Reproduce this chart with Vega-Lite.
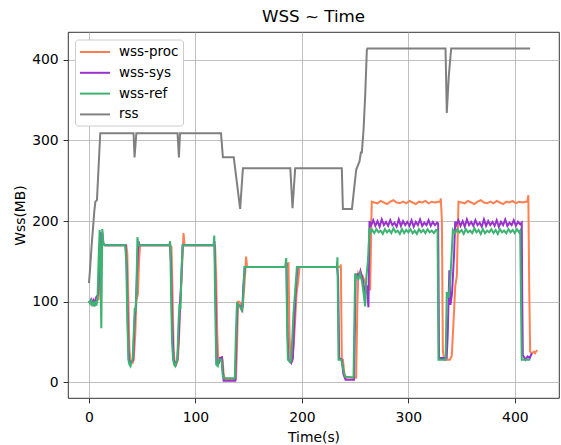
{
"$schema": "https://vega.github.io/schema/vega-lite/v6.json",
"width": 491, "height": 366,
"autosize": {"type": "none"},
"padding": {"left": 68, "top": 32, "right": 2, "bottom": 47},
"title": {"text": "WSS ~ Time", "fontSize": 16.7, "font": "DejaVu Sans", "fontWeight": "normal", "offset": 6, "color": "black"},
"config": {
  "font": "DejaVu Sans",
  "view": {"stroke": "black", "strokeWidth": 0.8},
  "axis": {"domain": false, "grid": true, "gridColor": "#b0b0b0", "gridWidth": 0.8, "tickColor": "black", "tickSize": 4.9, "tickWidth": 0.8, "labelFontSize": 13.9, "labelColor": "black", "labelPadding": 4.9, "titleFontSize": 13.9, "titleFontWeight": "normal", "titleColor": "black", "labelFont": "DejaVu Sans", "titleFont": "DejaVu Sans"},
  "axisX": {"labelPadding": 7.5, "titlePadding": 6},
  "legend": {"symbolType": "M-1,0H3", "symbolSize": 225, "symbolStrokeWidth": 2, "labelFontSize": 13.5, "labelFont": "DejaVu Sans", "labelOffset": 23, "padding": 4, "rowPadding": 5.8, "strokeColor": "#cccccc", "fillColor": "white", "cornerRadius": 3, "labelColor": "black"}
},
"datasets": {
"proc": [
{"t":0,"v":101},{"t":1,"v":99},{"t":2,"v":102},{"t":3,"v":98},{"t":4,"v":101},{"t":5,"v":97},{"t":6,"v":101},{"t":7,"v":100},{"t":8,"v":102},{"t":9,"v":103},{"t":10,"v":130},{"t":11,"v":180},{"t":12,"v":175},{"t":13.5,"v":172},{"t":15,"v":170},
{"t":35,"v":170},{"t":36,"v":160},{"t":37,"v":100},{"t":38,"v":40},{"t":39,"v":26},{"t":41,"v":24},{"t":42,"v":28},{"t":43.5,"v":60},{"t":44.5,"v":100},{"t":46,"v":110},{"t":47,"v":150},{"t":48,"v":170},
{"t":76.5,"v":170},{"t":77.5,"v":168},{"t":78.5,"v":110},{"t":79.5,"v":40},{"t":80.5,"v":25},{"t":82,"v":22},{"t":83.5,"v":28},{"t":84.5,"v":50},{"t":85.5,"v":95},{"t":87,"v":130},{"t":88,"v":160},{"t":88.8,"v":185},{"t":89.8,"v":170},
{"t":117.5,"v":170},{"t":118.5,"v":168},{"t":119.5,"v":130},{"t":120.5,"v":60},{"t":121.5,"v":25},{"t":124.5,"v":28},{"t":125.5,"v":28},{"t":126.5,"v":10},{"t":127.5,"v":4},{"t":138,"v":4},{"t":139,"v":40},{"t":140,"v":100},{"t":141,"v":100},{"t":143,"v":97},{"t":144.5,"v":95},{"t":146,"v":120},{"t":147.6,"v":156},{"t":148.5,"v":143},
{"t":185,"v":143},{"t":186.5,"v":145},{"t":187.4,"v":149},{"t":188.3,"v":60},{"t":189.5,"v":25},{"t":191,"v":26},{"t":192.5,"v":50},{"t":193.7,"v":78},{"t":195,"v":110},{"t":196.5,"v":125},{"t":197.8,"v":143},
{"t":236,"v":143},{"t":236.6,"v":146},{"t":237.5,"v":28},{"t":238.5,"v":28},{"t":240,"v":10},{"t":241.5,"v":6},{"t":251,"v":6},{"t":252,"v":90},{"t":253,"v":135},{"t":255,"v":130},{"t":257,"v":132},{"t":259,"v":125},{"t":261,"v":118},{"t":262.5,"v":115},{"t":264.1,"v":115},{"t":265.6,"v":224},
{"t":268,"v":223},{"t":271,"v":222},{"t":274,"v":225},{"t":277,"v":223},{"t":280,"v":221},{"t":283,"v":224},{"t":286,"v":226},{"t":289,"v":223},{"t":292,"v":222},{"t":295,"v":224},{"t":298,"v":222},{"t":301,"v":225},{"t":304,"v":223},{"t":307,"v":221},{"t":310,"v":224},{"t":313,"v":223},{"t":316,"v":225},{"t":319,"v":222},{"t":322,"v":224},{"t":325,"v":223},{"t":328,"v":224},
{"t":329.9,"v":224},{"t":330.5,"v":228},{"t":331.5,"v":200},{"t":332.4,"v":40},{"t":333.5,"v":28},{"t":339,"v":28},{"t":340.8,"v":33},{"t":343,"v":90},{"t":344,"v":119},{"t":345.5,"v":131},{"t":347.1,"v":224},
{"t":350,"v":223},{"t":353,"v":222},{"t":356,"v":225},{"t":359,"v":223},{"t":362,"v":221},{"t":365,"v":224},{"t":368,"v":226},{"t":371,"v":223},{"t":374,"v":222},{"t":377,"v":224},{"t":380,"v":222},{"t":383,"v":225},{"t":386,"v":223},{"t":389,"v":221},{"t":392,"v":224},{"t":395,"v":223},{"t":398,"v":225},{"t":401,"v":222},{"t":404,"v":224},{"t":407,"v":223},{"t":410,"v":224},
{"t":411.8,"v":224},{"t":412.7,"v":232},{"t":413.5,"v":120},{"t":414.4,"v":38},{"t":416,"v":36},{"t":418,"v":38},{"t":419,"v":36},{"t":421,"v":40}
],
"sys": [
{"t":0,"v":101},{"t":1,"v":99},{"t":2,"v":102},{"t":3,"v":97},{"t":4,"v":101},{"t":5,"v":96},{"t":6,"v":102},{"t":7,"v":106},{"t":8.5,"v":108},{"t":9.5,"v":130},{"t":10.5,"v":186},{"t":11.5,"v":150},{"t":12.5,"v":186},{"t":13.5,"v":172},{"t":15,"v":170},
{"t":34.5,"v":170},{"t":35.5,"v":140},{"t":36.5,"v":70},{"t":37.5,"v":28},{"t":38.5,"v":24},{"t":40,"v":26},{"t":41.5,"v":28},{"t":43,"v":80},{"t":44,"v":95},{"t":45,"v":130},{"t":46.5,"v":175},{"t":47.5,"v":170},
{"t":76,"v":170},{"t":77,"v":150},{"t":78,"v":80},{"t":79.5,"v":28},{"t":81.5,"v":22},{"t":83,"v":28},{"t":84.5,"v":60},{"t":85.5,"v":97},{"t":86.5,"v":120},{"t":88,"v":170},
{"t":117.3,"v":170},{"t":118,"v":175},{"t":119,"v":100},{"t":120,"v":25},{"t":122,"v":24},{"t":123,"v":30},{"t":124.9,"v":31},{"t":126,"v":10},{"t":126.5,"v":2},{"t":137.5,"v":2},{"t":138.5,"v":60},{"t":139.5,"v":97},{"t":142,"v":95},{"t":144,"v":90},{"t":145,"v":120},{"t":146.5,"v":143},
{"t":184.5,"v":143},{"t":185.5,"v":148},{"t":186.5,"v":60},{"t":187.5,"v":28},{"t":190,"v":24},{"t":191.5,"v":30},{"t":193,"v":80},{"t":194.5,"v":120},{"t":196,"v":143},
{"t":233,"v":143},{"t":234,"v":130},{"t":235,"v":30},{"t":237.5,"v":28},{"t":239,"v":10},{"t":241,"v":3},{"t":249,"v":3},{"t":250.5,"v":130},{"t":252,"v":134},{"t":254,"v":133},{"t":255,"v":138},{"t":257,"v":128},{"t":259.5,"v":110},{"t":261,"v":120},{"t":262.5,"v":93},{"t":263.5,"v":200},
{"t":265,"v":195},{"t":267,"v":201},{"t":269,"v":194},{"t":271,"v":200},{"t":273,"v":193},{"t":275,"v":202},{"t":277,"v":195},{"t":279,"v":199},{"t":281,"v":194},{"t":283,"v":201},{"t":285,"v":195},{"t":287,"v":198},{"t":289,"v":193},{"t":291,"v":202},{"t":293,"v":194},{"t":295,"v":200},{"t":297,"v":195},{"t":299,"v":199},{"t":301,"v":194},{"t":303,"v":201},{"t":305,"v":193},{"t":307,"v":199},{"t":309,"v":195},{"t":311,"v":202},{"t":313,"v":194},{"t":315,"v":198},{"t":317,"v":195},{"t":319,"v":201},{"t":321,"v":194},{"t":323,"v":199},{"t":325,"v":195},{"t":327,"v":198},
{"t":328,"v":197},{"t":328.8,"v":30},{"t":336,"v":30},{"t":337,"v":60},{"t":338.5,"v":139},{"t":339.5,"v":96},{"t":341,"v":110},{"t":343,"v":160},{"t":344,"v":199.5},
{"t":345,"v":195},{"t":347,"v":201},{"t":349,"v":194},{"t":351,"v":200},{"t":353,"v":193},{"t":355,"v":202},{"t":357,"v":195},{"t":359,"v":199},{"t":361,"v":194},{"t":363,"v":201},{"t":365,"v":195},{"t":367,"v":198},{"t":369,"v":193},{"t":371,"v":202},{"t":373,"v":194},{"t":375,"v":200},{"t":377,"v":195},{"t":379,"v":199},{"t":381,"v":194},{"t":383,"v":201},{"t":385,"v":193},{"t":387,"v":199},{"t":389,"v":195},{"t":391,"v":202},{"t":393,"v":194},{"t":395,"v":198},{"t":397,"v":195},{"t":399,"v":201},{"t":401,"v":194},{"t":403,"v":199},{"t":405,"v":196},
{"t":406.5,"v":198},{"t":407,"v":100},{"t":407.5,"v":34},{"t":410,"v":28},{"t":412,"v":32},{"t":414,"v":30},{"t":416,"v":36}
],
"ref": [
{"t":0,"v":101},{"t":1,"v":98},{"t":2,"v":103},{"t":3,"v":95},{"t":4,"v":100},{"t":5,"v":94},{"t":6,"v":101},{"t":7,"v":95},{"t":8,"v":104},{"t":9,"v":150},{"t":10,"v":189},{"t":11,"v":120},{"t":11.6,"v":67},{"t":12.5,"v":190},{"t":13.5,"v":172},{"t":14.5,"v":170},
{"t":34,"v":170},{"t":35,"v":150},{"t":36,"v":80},{"t":37,"v":28},{"t":38,"v":22},{"t":39,"v":20},{"t":40,"v":26},{"t":41,"v":28},{"t":42,"v":60},{"t":43,"v":92},{"t":43.8,"v":88},{"t":44.5,"v":110},{"t":45.5,"v":180},{"t":46.5,"v":170},
{"t":75.5,"v":170},{"t":76.3,"v":175},{"t":77,"v":120},{"t":78,"v":50},{"t":79,"v":28},{"t":80,"v":22},{"t":81,"v":20},{"t":82,"v":25},{"t":83,"v":28},{"t":84,"v":70},{"t":85,"v":97},{"t":86,"v":91},{"t":87,"v":140},{"t":88,"v":170},
{"t":117,"v":170},{"t":117.7,"v":182},{"t":118.5,"v":100},{"t":119.5,"v":22},{"t":121,"v":20},{"t":122,"v":28},{"t":124.5,"v":28},{"t":125.5,"v":10},{"t":126.5,"v":5},{"t":137,"v":5},{"t":138,"v":60},{"t":139,"v":98},{"t":141,"v":96},{"t":143.5,"v":89},{"t":144.5,"v":95},{"t":146,"v":143},
{"t":184.3,"v":143},{"t":185.3,"v":154},{"t":186,"v":80},{"t":186.8,"v":28},{"t":189,"v":25},{"t":190,"v":28},{"t":191,"v":55},{"t":192.1,"v":86},{"t":193.5,"v":110},{"t":195.3,"v":143},
{"t":232.8,"v":143},{"t":233.4,"v":155},{"t":234.4,"v":28},{"t":237,"v":28},{"t":238.5,"v":18},{"t":240.5,"v":7},{"t":248.5,"v":6},{"t":250,"v":135},{"t":252,"v":130},{"t":253,"v":128},{"t":254.7,"v":135},{"t":256.5,"v":125},{"t":258,"v":110},{"t":259.4,"v":94},{"t":260.5,"v":130},{"t":262,"v":150},{"t":263.5,"v":192},{"t":264.5,"v":186},
{"t":266,"v":189},{"t":268,"v":185},{"t":270,"v":190},{"t":272,"v":186},{"t":274,"v":188},{"t":276,"v":184},{"t":278,"v":190},{"t":280,"v":186},{"t":282,"v":189},{"t":284,"v":185},{"t":286,"v":191},{"t":288,"v":186},{"t":290,"v":188},{"t":292,"v":184},{"t":294,"v":190},{"t":296,"v":185},{"t":298,"v":189},{"t":300,"v":186},{"t":302,"v":190},{"t":304,"v":185},{"t":306,"v":188},{"t":308,"v":184},{"t":310,"v":190},{"t":312,"v":186},{"t":314,"v":189},{"t":316,"v":185},{"t":318,"v":190},{"t":320,"v":186},{"t":322,"v":188},{"t":324,"v":185},{"t":326,"v":189},
{"t":327.4,"v":188},{"t":328.3,"v":28},{"t":335,"v":28},{"t":336.1,"v":112},{"t":338,"v":105},{"t":339.5,"v":130},{"t":341.8,"v":189},
{"t":344,"v":185},{"t":346,"v":190},{"t":348,"v":186},{"t":350,"v":189},{"t":352,"v":184},{"t":354,"v":190},{"t":356,"v":186},{"t":358,"v":188},{"t":360,"v":185},{"t":362,"v":191},{"t":364,"v":186},{"t":366,"v":189},{"t":368,"v":184},{"t":370,"v":190},{"t":372,"v":185},{"t":374,"v":188},{"t":376,"v":186},{"t":378,"v":190},{"t":380,"v":185},{"t":382,"v":189},{"t":384,"v":184},{"t":386,"v":190},{"t":388,"v":186},{"t":390,"v":188},{"t":392,"v":185},{"t":394,"v":190},{"t":396,"v":186},{"t":398,"v":189},{"t":400,"v":185},{"t":402,"v":190},{"t":404,"v":186},
{"t":405,"v":188},{"t":406.5,"v":28},{"t":414.4,"v":28}
],
"rss": [
{"t":0,"v":123},{"t":1,"v":140},{"t":2,"v":160},{"t":3,"v":178},{"t":4,"v":195},{"t":5,"v":212},{"t":6,"v":224},{"t":7.5,"v":226},{"t":10.6,"v":309},{"t":41.9,"v":309},{"t":42.8,"v":279},{"t":44.5,"v":309},{"t":83.2,"v":309},{"t":84.5,"v":279},{"t":85.5,"v":309},{"t":124,"v":309},{"t":125.8,"v":279},{"t":136,"v":279},{"t":142,"v":215},{"t":144.6,"v":265.6},{"t":189.1,"v":265.6},{"t":191.2,"v":216},{"t":193.7,"v":265.6},{"t":237.5,"v":265.6},{"t":238.5,"v":215},{"t":247,"v":215},{"t":251,"v":263.6},{"t":254.1,"v":274},{"t":255.4,"v":285},{"t":256.3,"v":285},{"t":257.9,"v":313},{"t":259.4,"v":354},{"t":261,"v":412},{"t":261.5,"v":414},{"t":334.9,"v":414},{"t":336.1,"v":334},{"t":338,"v":380},{"t":340.2,"v":414},{"t":414.4,"v":414}
]
},
"encoding": {
  "x": {"field": "t", "type": "quantitative", "scale": {"domain": [-19.7, 441.5], "nice": false, "zero": false}, "axis": {"title": "Time(s)", "values": [0, 100, 200, 300, 400]}},
  "y": {"field": "v", "type": "quantitative", "scale": {"domain": [-19.5, 434.5], "nice": false, "zero": false}, "axis": {"title": "Wss(MB)", "values": [0, 100, 200, 300, 400]}}
},
"layer": [
  {"data": {"name": "proc"}, "mark": {"type": "line", "strokeWidth": 2, "clip": true}, "encoding": {"color": {"datum": "wss-proc", "type": "nominal", "scale": {"domain": ["wss-proc", "wss-sys", "wss-ref", "rss"], "range": ["#FF7F50", "#9932CC", "#3CB371", "#808080"]}, "legend": {"title": null, "orient": "none", "legendX": 7, "legendY": 7.5}}}},
  {"data": {"name": "sys"}, "mark": {"type": "line", "strokeWidth": 2, "clip": true}, "encoding": {"color": {"datum": "wss-sys", "type": "nominal"}}},
  {"data": {"name": "ref"}, "mark": {"type": "line", "strokeWidth": 2, "clip": true}, "encoding": {"color": {"datum": "wss-ref", "type": "nominal"}}},
  {"data": {"name": "rss"}, "mark": {"type": "line", "strokeWidth": 2, "clip": true}, "encoding": {"color": {"datum": "rss", "type": "nominal"}}}
]
}
